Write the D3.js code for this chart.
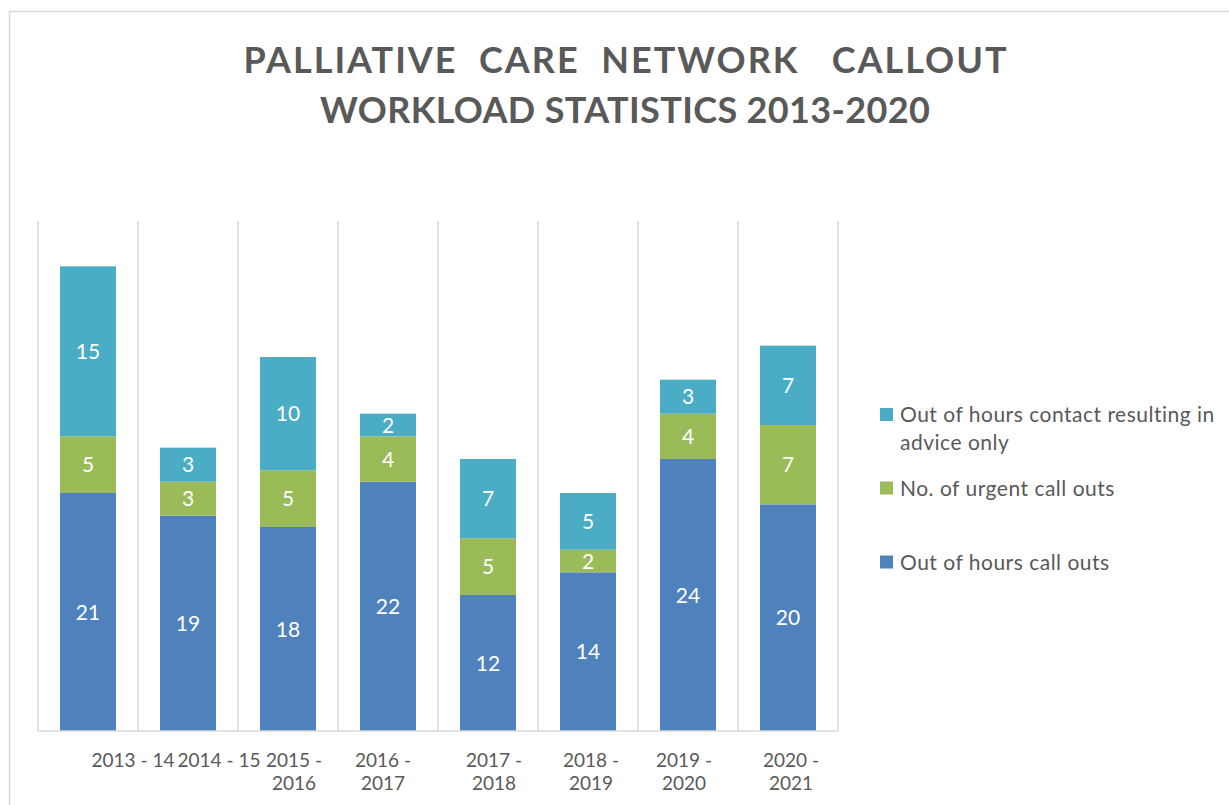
<!DOCTYPE html>
<html>
<head>
<meta charset="utf-8">
<script src="https://cdn.jsdelivr.net/npm/d3@7"></script>
<style>
  body { margin: 0; background: #fff; }
  text { font-family: Lato, "Open Sans", sans-serif; }
</style>
</head>
<body>
<script>
const categories = ['2013 - 14', '2014 - 15', '2015 - 2016', '2016 - 2017', '2017 - 2018', '2018 - 2019', '2019 - 2020', '2020 - 2021']
const tickLines = [['2013 - 14'], ['2014 - 15'], ['2015 -', '2016'], ['2016 -', '2017'], ['2017 -', '2018'], ['2018 -', '2019'], ['2019 -', '2020'], ['2020 -', '2021']]
const callOuts = [21, 19, 18, 22, 12, 14, 24, 20]
const urgent = [5, 3, 5, 4, 5, 2, 4, 7]
const adviceOnly = [15, 3, 10, 2, 7, 5, 3, 7]
const seriesNames = ['Out of hours call outs', 'No. of urgent call outs', 'Out of hours contact resulting in advice only']
const titleLines = ['PALLIATIVE  CARE  NETWORK   CALLOUT', 'WORKLOAD STATISTICS 2013-2020']

const colors = ['#4f81bd', '#9bbb59', '#4bacc6']
const grey = '#595959'
const gridColor = '#d9d9d9'
// excel pushed the first two single-line labels to the right
const labelShift = [45, 31, 6, -5, 6, 3, -4, 3]

const width = 1229, height = 805
const plot = {left: 38, right: 838, top: 221, bottom: 731}

const svg = d3.select('body').append('svg')
  .attr('width', width)
  .attr('height', height)

// chart frame
svg.append('rect')
  .attr('x', 9.5).attr('y', 11.5)
  .attr('width', 1232).attr('height', 830)
  .attr('fill', 'none')
  .attr('stroke', gridColor)
  .attr('stroke-width', 1.5)

// title
const titleWidths = [763, 610]
svg.selectAll('text.title')
  .data(titleLines)
  .enter()
  .append('text')
  .attr('class', 'title')
  .attr('x', 625)
  .attr('y', (d, i) => 73 + i * 50)
  .attr('text-anchor', 'middle')
  .attr('textLength', (d, i) => titleWidths[i])
  .attr('lengthAdjust', 'spacing')
  .attr('fill', grey)
  .style('font-size', '36px')
  .style('font-weight', 'bold')
  .style('white-space', 'pre')
  .text(d => d)

const data = categories.map((c, i) => ({cat: c, a: callOuts[i], b: urgent[i], c: adviceOnly[i]}))
const stack = d3.stack().keys(['a', 'b', 'c'])
const series = stack(data)

const x = d3.scaleBand()
  .domain(categories)
  .range([plot.left, plot.right])
  .paddingInner(0.44)
  .paddingOuter(0.22)

const y = d3.scaleLinear()
  .domain([0, 45])
  .range([plot.bottom, plot.top])

// vertical gridlines between categories
const step = x.step()
const gridX = d3.range(categories.length + 1).map(i => plot.left + i * step)
svg.append('g')
  .selectAll('line')
  .data(gridX)
  .enter()
  .append('line')
  .attr('x1', d => d).attr('x2', d => d)
  .attr('y1', plot.top).attr('y2', plot.bottom)
  .attr('stroke', gridColor)
  .attr('stroke-width', 1.5)

// bars
const layers = svg.append('g')
  .selectAll('g')
  .data(series)
  .enter()
  .append('g')
  .attr('fill', (d, i) => colors[i])

layers.selectAll('rect')
  .data(d => d)
  .enter()
  .append('rect')
  .attr('x', d => x(d.data.cat))
  .attr('y', d => y(d[1]))
  .attr('width', x.bandwidth())
  .attr('height', d => y(d[0]) - y(d[1]))

layers.selectAll('text')
  .data(d => d)
  .enter()
  .append('text')
  .attr('x', d => x(d.data.cat) + x.bandwidth() / 2)
  .attr('y', d => (y(d[0]) + y(d[1])) / 2)
  .attr('dy', '0.36em')
  .attr('text-anchor', 'middle')
  .attr('fill', '#fff')
  .style('font-size', '21px')
  .text(d => d[1] - d[0])

// category axis
svg.append('line')
  .attr('x1', plot.left).attr('x2', plot.right)
  .attr('y1', plot.bottom).attr('y2', plot.bottom)
  .attr('stroke', gridColor)
  .attr('stroke-width', 1.5)

const ticks = svg.append('g')
  .selectAll('text')
  .data(categories)
  .enter()
  .append('text')
  .attr('x', (d, i) => x(d) + x.bandwidth() / 2 + labelShift[i])
  .attr('y', 767)
  .attr('text-anchor', 'middle')
  .attr('fill', grey)
  .style('font-size', '19px')

ticks.selectAll('tspan')
  .data((d, i) => tickLines[i])
  .enter()
  .append('tspan')
  .attr('x', function () { return d3.select(this.parentNode).attr('x') })
  .attr('dy', (d, i) => i === 0 ? 0 : 23)
  .text(d => d)

// legend, top entry first
const legendRows = [
  {s: 2, lines: ['Out of hours contact resulting in', 'advice only'], y: 414.5},
  {s: 1, lines: ['No. of urgent call outs'], y: 488},
  {s: 0, lines: ['Out of hours call outs'], y: 562}
]
const legend = svg.append('g')
  .selectAll('g')
  .data(legendRows)
  .enter()
  .append('g')

legend.append('rect')
  .attr('x', 880)
  .attr('y', d => d.y - 6.5)
  .attr('width', 13)
  .attr('height', 13)
  .attr('fill', d => colors[d.s])

legend.append('text')
  .attr('x', 900)
  .attr('y', d => d.y)
  .attr('fill', grey)
  .style('font-size', '21px')
  .style('letter-spacing', '0.5px')
  .selectAll('tspan')
  .data(d => d.lines)
  .enter()
  .append('tspan')
  .attr('x', 900)
  .attr('dy', (d, i) => i === 0 ? '0.36em' : 28)
  .text(d => d)
</script>
</body>
</html>
